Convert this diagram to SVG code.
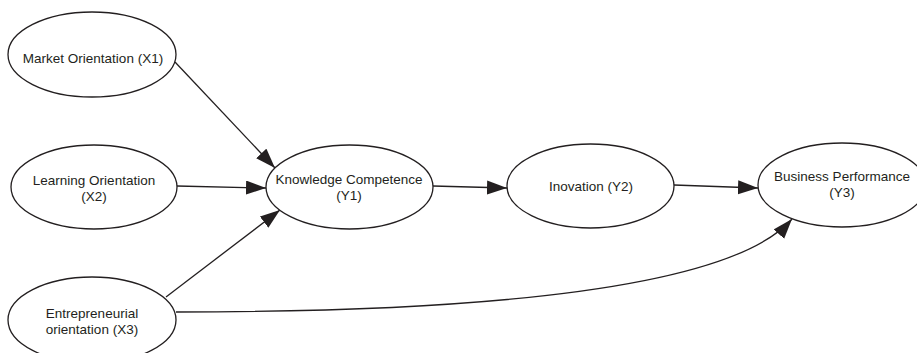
<svg xmlns="http://www.w3.org/2000/svg" width="917" height="353" viewBox="0 0 917 353">
<defs>
<marker id="arr" markerUnits="userSpaceOnUse" markerWidth="22" markerHeight="16" refX="20" refY="7" orient="auto">
<path d="M0,0 L20,7 L0,14 Z" fill="#231f20"/>
</marker>
<style>
.n ellipse{fill:#fff;stroke:#231f20;stroke-width:1.3}
.n text{font-family:"Liberation Sans",Arial,sans-serif;font-size:13.5px;fill:#231f20;text-anchor:middle}
#edges path{fill:none;stroke:#231f20;stroke-width:1.3;marker-end:url(#arr)}
</style>
</defs>
<rect width="917" height="353" fill="#fff"/>
<g id="edges">
<path d="M175,62 L275,168"/>
<path d="M177,186 L266,188"/>
<path d="M166,297 L280,210"/>
<path d="M433,186 L507,188"/>
<path d="M674,185 L758,188"/>
<path d="M176,312 Q711,312 792,219"/>
</g>
<g id="x1" class="n"><ellipse cx="92" cy="54.5" rx="84" ry="42.5"/><text x="93" y="63">Market Orientation (X1)</text></g>
<g id="x2" class="n"><ellipse cx="94" cy="187" rx="83" ry="42"/><text x="94" y="185">Learning Orientation</text><text x="94" y="201">(X2)</text></g>
<g id="x3" class="n"><ellipse cx="92" cy="320" rx="84" ry="43"/><text x="92" y="318">Entrepreneurial</text><text x="92" y="334">orientation (X3)</text></g>
<g id="y1" class="n"><ellipse cx="349.5" cy="187" rx="83.5" ry="42"/><text x="349" y="184">Knowledge Competence</text><text x="349" y="200">(Y1)</text></g>
<g id="y2" class="n"><ellipse cx="590.5" cy="186" rx="83.5" ry="42"/><text x="591" y="190.5">Inovation (Y2)</text></g>
<g id="y3" class="n"><ellipse cx="842" cy="185" rx="84" ry="42"/><text x="842" y="181">Business Performance</text><text x="842" y="197">(Y3)</text></g>
</svg>
